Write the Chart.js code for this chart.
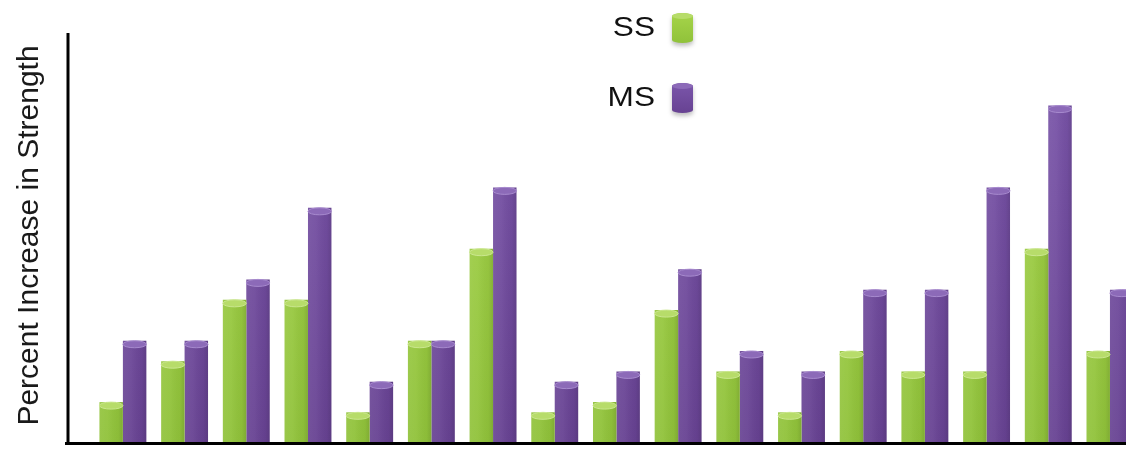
<!DOCTYPE html>
<html>
<head>
<meta charset="utf-8">
<title>Percent Increase in Strength</title>
<script src="https://cdn.jsdelivr.net/npm/chart.js@4/dist/chart.umd.min.js"></script>
<style>
  html, body { margin: 0; padding: 0; background: #ffffff; overflow: hidden; }
  #wrap { position: relative; width: 1126px; height: 452px; }
</style>
</head>
<body>
<div id="wrap"><canvas id="chart"></canvas></div>
<script>
// Subjects along the x axis (no tick labels are shown)
const categories = ['1', '2', '3', '4', '5', '6', '7', '8', '9', '10', '11', '12', '13', '14', '15', '16', '17'];
const seriesNames = ['SS', 'MS'];
// Percent increase in strength, single-set (SS) and multiple-set (MS)
const ssValues = [4, 8, 14, 14, 3, 10, 19, 3, 4, 13, 7, 3, 9, 7, 7, 19, 9];
const msValues = [10, 10, 16, 23, 6, 10, 25, 6, 7, 17, 9, 7, 15, 15, 25, 33, 15];
const axisTitle = 'Percent Increase in Strength';

const palette = {
  SS: { top: '#a6d44a', bottom: '#90c23a', cap: '#b7dc6a', rim: '#cbe78f' },
  MS: { top: '#7b56ab', bottom: '#674292', cap: '#8c6ab8', rim: '#a78ace' }
};

function verticalGradient(name) {
  return (ctx) => {
    const area = ctx.chart.chartArea;
    if (!area) return palette[name].top;
    const g = ctx.chart.ctx.createLinearGradient(0, area.top, 0, area.bottom);
    g.addColorStop(0, palette[name].top);
    g.addColorStop(1, palette[name].bottom);
    return g;
  };
}

function toPoints(values) {
  return categories.map((c, i) => ({ x: i + 1, y: values[i] }));
}

// Draws the cylinder shading and caps on top of each bar element
const cylinderPlugin = {
  id: 'cylinders',
  afterDatasetsDraw(chart) {
    const { ctx, chartArea } = chart;
    ctx.save();
    ctx.beginPath();
    ctx.rect(chartArea.left, 0, chartArea.right - chartArea.left, chartArea.bottom);
    ctx.clip();
    chart.data.datasets.forEach((ds, di) => {
      const meta = chart.getDatasetMeta(di);
      const col = palette[ds.label];
      meta.data.forEach((bar) => {
        const { x, y, width, base } = bar.getProps(['x', 'y', 'width', 'base'], true);
        const left = x - width / 2;
        // side shading for a rounded look
        const sg = ctx.createLinearGradient(left, 0, left + width, 0);
        sg.addColorStop(0, 'rgba(255,255,255,0.08)');
        sg.addColorStop(0.35, 'rgba(255,255,255,0.05)');
        sg.addColorStop(0.8, 'rgba(0,0,0,0.03)');
        sg.addColorStop(1, 'rgba(0,0,0,0.12)');
        ctx.fillStyle = sg;
        ctx.fillRect(left, y, width, base - y);
        // top cap
        const ry = 3.5;
        ctx.beginPath();
        ctx.ellipse(x, y + ry, width / 2, ry, 0, 0, Math.PI * 2);
        ctx.fillStyle = col.cap;
        ctx.fill();
        ctx.lineWidth = 1;
        ctx.strokeStyle = col.rim;
        ctx.stroke();
      });
    });
    ctx.restore();
  }
};

// Axis lines, rotated axis title and the legend with small cylinder keys
const framePlugin = {
  id: 'frame',
  afterDraw(chart) {
    const { ctx, chartArea } = chart;
    ctx.save();
    ctx.strokeStyle = '#000000';
    ctx.lineWidth = 3;
    ctx.lineCap = 'butt';
    ctx.beginPath();
    ctx.moveTo(chartArea.left, chartArea.top - 1);
    ctx.lineTo(chartArea.left, chartArea.bottom + 1.5);
    ctx.stroke();
    ctx.beginPath();
    ctx.moveTo(chartArea.left - 3, chartArea.bottom + 0.5);
    ctx.lineTo(chartArea.right, chartArea.bottom + 0.5);
    ctx.stroke();

    // y axis title
    ctx.save();
    ctx.translate(30, (chartArea.top + chartArea.bottom) / 2 - 3);
    ctx.rotate(-Math.PI / 2);
    ctx.fillStyle = '#1a1a1a';
    ctx.font = '30px "Liberation Sans", Arial, sans-serif';
    ctx.textAlign = 'center';
    ctx.textBaseline = 'middle';
    ctx.fillText(axisTitle, 0, 0);
    ctx.restore();

    // legend
    const keys = [{ cy: 28 }, { cy: 98 }];
    chart.data.datasets.forEach((ds, i) => {
      const col = palette[ds.label];
      const cy = keys[i].cy;
      ctx.save();
      ctx.translate(655, cy);
      ctx.scale(1.17, 1);
      ctx.fillStyle = '#111111';
      ctx.font = '27px "Liberation Sans", Arial, sans-serif';
      ctx.textAlign = 'right';
      ctx.textBaseline = 'middle';
      ctx.fillText(ds.label, 0, 1);
      ctx.restore();

      const bx = 672, bw = 21, btop = cy - 15, bh = 30;
      ctx.save();
      ctx.shadowColor = 'rgba(0,0,0,0.25)';
      ctx.shadowBlur = 4;
      ctx.shadowOffsetY = 3;
      const g = ctx.createLinearGradient(0, btop, 0, btop + bh);
      g.addColorStop(0, col.top);
      g.addColorStop(1, col.bottom);
      ctx.fillStyle = g;
      ctx.beginPath();
      ctx.moveTo(bx, btop + 3);
      ctx.lineTo(bx, btop + bh - 3);
      ctx.ellipse(bx + bw / 2, btop + bh - 3, bw / 2, 3, 0, Math.PI, 0, true);
      ctx.lineTo(bx + bw, btop + 3);
      ctx.ellipse(bx + bw / 2, btop + 3, bw / 2, 3, 0, 0, Math.PI, true);
      ctx.closePath();
      ctx.fill();
      ctx.restore();
      ctx.beginPath();
      ctx.ellipse(bx + bw / 2, btop + 3, bw / 2, 3, 0, 0, Math.PI * 2);
      ctx.fillStyle = col.cap;
      ctx.fill();
    });
    ctx.restore();
  }
};

new Chart(document.getElementById('chart'), {
  type: 'bar',
  data: {
    datasets: [
      { label: seriesNames[0], data: toPoints(ssValues), backgroundColor: verticalGradient('SS'), borderWidth: 0 },
      { label: seriesNames[1], data: toPoints(msValues), backgroundColor: verticalGradient('MS'), borderWidth: 0 }
    ]
  },
  options: {
    responsive: true,
    maintainAspectRatio: false,
    animation: false,
    devicePixelRatio: 1,
    layout: { padding: { left: 68, top: 34, right: 0, bottom: 9 } },
    datasets: { bar: { categoryPercentage: 0.76, barPercentage: 1.0 } },
    scales: {
      x: { type: 'linear', min: 0.11, max: 17.26, offset: false, display: false },
      y: { min: 0, max: 40, display: false }
    },
    plugins: { legend: { display: false }, tooltip: { enabled: false } }
  },
  plugins: [cylinderPlugin, framePlugin]
});
</script>
</body>
</html>
